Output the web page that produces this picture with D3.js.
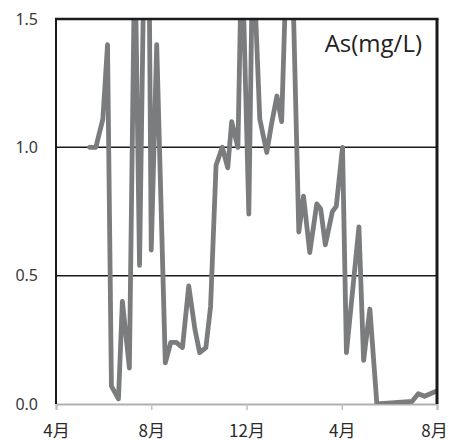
<!DOCTYPE html>
<html>
<head>
<meta charset="utf-8">
<script src="https://cdn.jsdelivr.net/npm/d3@7"></script>
<style>
  body { margin: 0; background: #fff; }
  svg { display: block; }
</style>
</head>
<body>
<div id="chart"></div>
<script>
// sampling dates and As concentration (mg/L); values above 1.5 run off the top
var dates = [
  "2011-05-14", "2011-05-22", "2011-05-31", "2011-06-06", "2011-06-11", "2011-06-20",
  "2011-06-25", "2011-07-04", "2011-07-11", "2011-07-17", "2011-07-23", "2011-07-29",
  "2011-08-01", "2011-08-08", "2011-08-19", "2011-08-26", "2011-09-02", "2011-09-10",
  "2011-09-18", "2011-09-26", "2011-10-02", "2011-10-10", "2011-10-16", "2011-10-23",
  "2011-10-31", "2011-11-07", "2011-11-12", "2011-11-20", "2011-11-25", "2011-12-04",
  "2011-12-09", "2011-12-18", "2011-12-27", "2012-01-02", "2012-01-09", "2012-01-15",
  "2012-01-22", "2012-01-28", "2012-02-06", "2012-02-12", "2012-02-20", "2012-02-29",
  "2012-03-05", "2012-03-11", "2012-03-20", "2012-03-25", "2012-04-02", "2012-04-07",
  "2012-04-23", "2012-04-29", "2012-05-07", "2012-05-16", "2012-06-30", "2012-07-08",
  "2012-07-16", "2012-07-31"
];
var asValues = [
  1.00, 1.00, 1.11, 1.40, 0.07, 0.02,
  0.40, 0.14, 1.80, 0.54, 1.80, 1.80,
  0.60, 1.40, 0.16, 0.24, 0.24, 0.22,
  0.46, 0.29, 0.20, 0.22, 0.38, 0.93,
  1.00, 0.92, 1.10, 1.00, 1.80, 0.74,
  1.80, 1.11, 0.98, 1.09, 1.20, 1.10,
  1.80, 1.80, 0.67, 0.81, 0.59, 0.78,
  0.76, 0.62, 0.75, 0.77, 1.00, 0.20,
  0.69, 0.17, 0.37, 0.00, 0.01, 0.04,
  0.03, 0.05
];
var xTicks = ["2011-04-01", "2011-08-01", "2011-12-01", "2012-04-01", "2012-08-01"];
var yTicks = [0, 0.5, 1.0, 1.5];
var seriesLabel = "As(mg/L)";

var parse = d3.timeParse("%Y-%m-%d");
var data = dates.map(function(d, i) { return {date: parse(d), value: asValues[i]}; });

var W = 449, H = 441;
var margin = {top: 19, right: 12, bottom: 37, left: 56};
var width = W - margin.left - margin.right;
var height = H - margin.top - margin.bottom;

var svg = d3.select("#chart").append("svg")
    .attr("width", W)
    .attr("height", H);

var g = svg.append("g")
    .attr("transform", "translate(" + margin.left + "," + margin.top + ")");

var x = d3.scaleTime()
    .domain([parse(xTicks[0]), parse(xTicks[xTicks.length - 1])])
    .range([0, width]);
var y = d3.scaleLinear().domain([0, 1.5]).range([height, 0]);

// horizontal gridlines
g.append("g")
    .selectAll("line")
    .data(yTicks.filter(function(d) { return d > 0 && d < 1.5; }))
    .join("line")
    .attr("x1", 0).attr("x2", width)
    .attr("y1", function(d) { return y(d); })
    .attr("y2", function(d) { return y(d); })
    .attr("stroke", "#1a1a1a")
    .attr("stroke-width", 1.5);

// y tick labels
g.append("g")
    .selectAll("text")
    .data(yTicks)
    .join("text")
    .attr("x", -18)
    .attr("y", function(d) { return y(d); })
    .attr("dy", "0.36em")
    .attr("text-anchor", "end")
    .attr("font-family", "'Noto Sans', sans-serif")
    .attr("font-size", 16)
    .attr("fill", "#3a3a3a")
    .text(function(d) { return d3.format(".1f")(d); });

// bottom axis
var xAxis = d3.axisBottom(x)
    .tickValues(xTicks.map(parse))
    .tickSize(6)
    .tickPadding(15)
    .tickFormat(function(d) { return (d.getMonth() + 1) + "月"; });

var ax = g.append("g")
    .attr("transform", "translate(0," + height + ")")
    .call(xAxis);
ax.select(".domain").attr("stroke", "#b0b0b0").attr("stroke-width", 2);
ax.selectAll(".tick line").attr("stroke", "#c0c0c0").attr("stroke-width", 1.5);
ax.selectAll(".tick text")
    .attr("font-family", "'Noto Sans CJK JP', 'Noto Sans', sans-serif")
    .attr("font-size", 17)
    .attr("fill", "#2a2a2a")
    .attr("dx", function(d, i) { return i === xTicks.length - 1 ? -3 : 0; });

// data line, clipped to the plot area
g.append("clipPath").attr("id", "clip")
    .append("rect").attr("x", 0).attr("y", 0).attr("width", width).attr("height", height);

var line = d3.line()
    .x(function(d) { return x(d.date); })
    .y(function(d) { return y(d.value); });

g.append("path")
    .datum(data)
    .attr("clip-path", "url(#clip)")
    .attr("fill", "none")
    .attr("stroke", "#7b7c7e")
    .attr("stroke-width", 4.8)
    .attr("stroke-linejoin", "round")
    .attr("stroke-linecap", "round")
    .attr("d", line);

// frame: top, left, right
g.append("line").attr("x1", -1).attr("x2", width + 1.5).attr("y1", 0).attr("y2", 0)
    .attr("stroke", "#1a1a1a").attr("stroke-width", 2.5);
g.append("line").attr("x1", 0).attr("x2", 0).attr("y1", 0).attr("y2", height)
    .attr("stroke", "#1a1a1a").attr("stroke-width", 2);
g.append("line").attr("x1", width).attr("x2", width).attr("y1", 0).attr("y2", height)
    .attr("stroke", "#1a1a1a").attr("stroke-width", 3);

// series label
g.append("text")
    .attr("x", width - 15)
    .attr("y", 33)
    .attr("text-anchor", "end")
    .attr("font-family", "'Open Sans', 'Noto Sans', sans-serif")
    .attr("font-size", 24)
    .attr("fill", "#222")
    .text(seriesLabel);
</script>
</body>
</html>
